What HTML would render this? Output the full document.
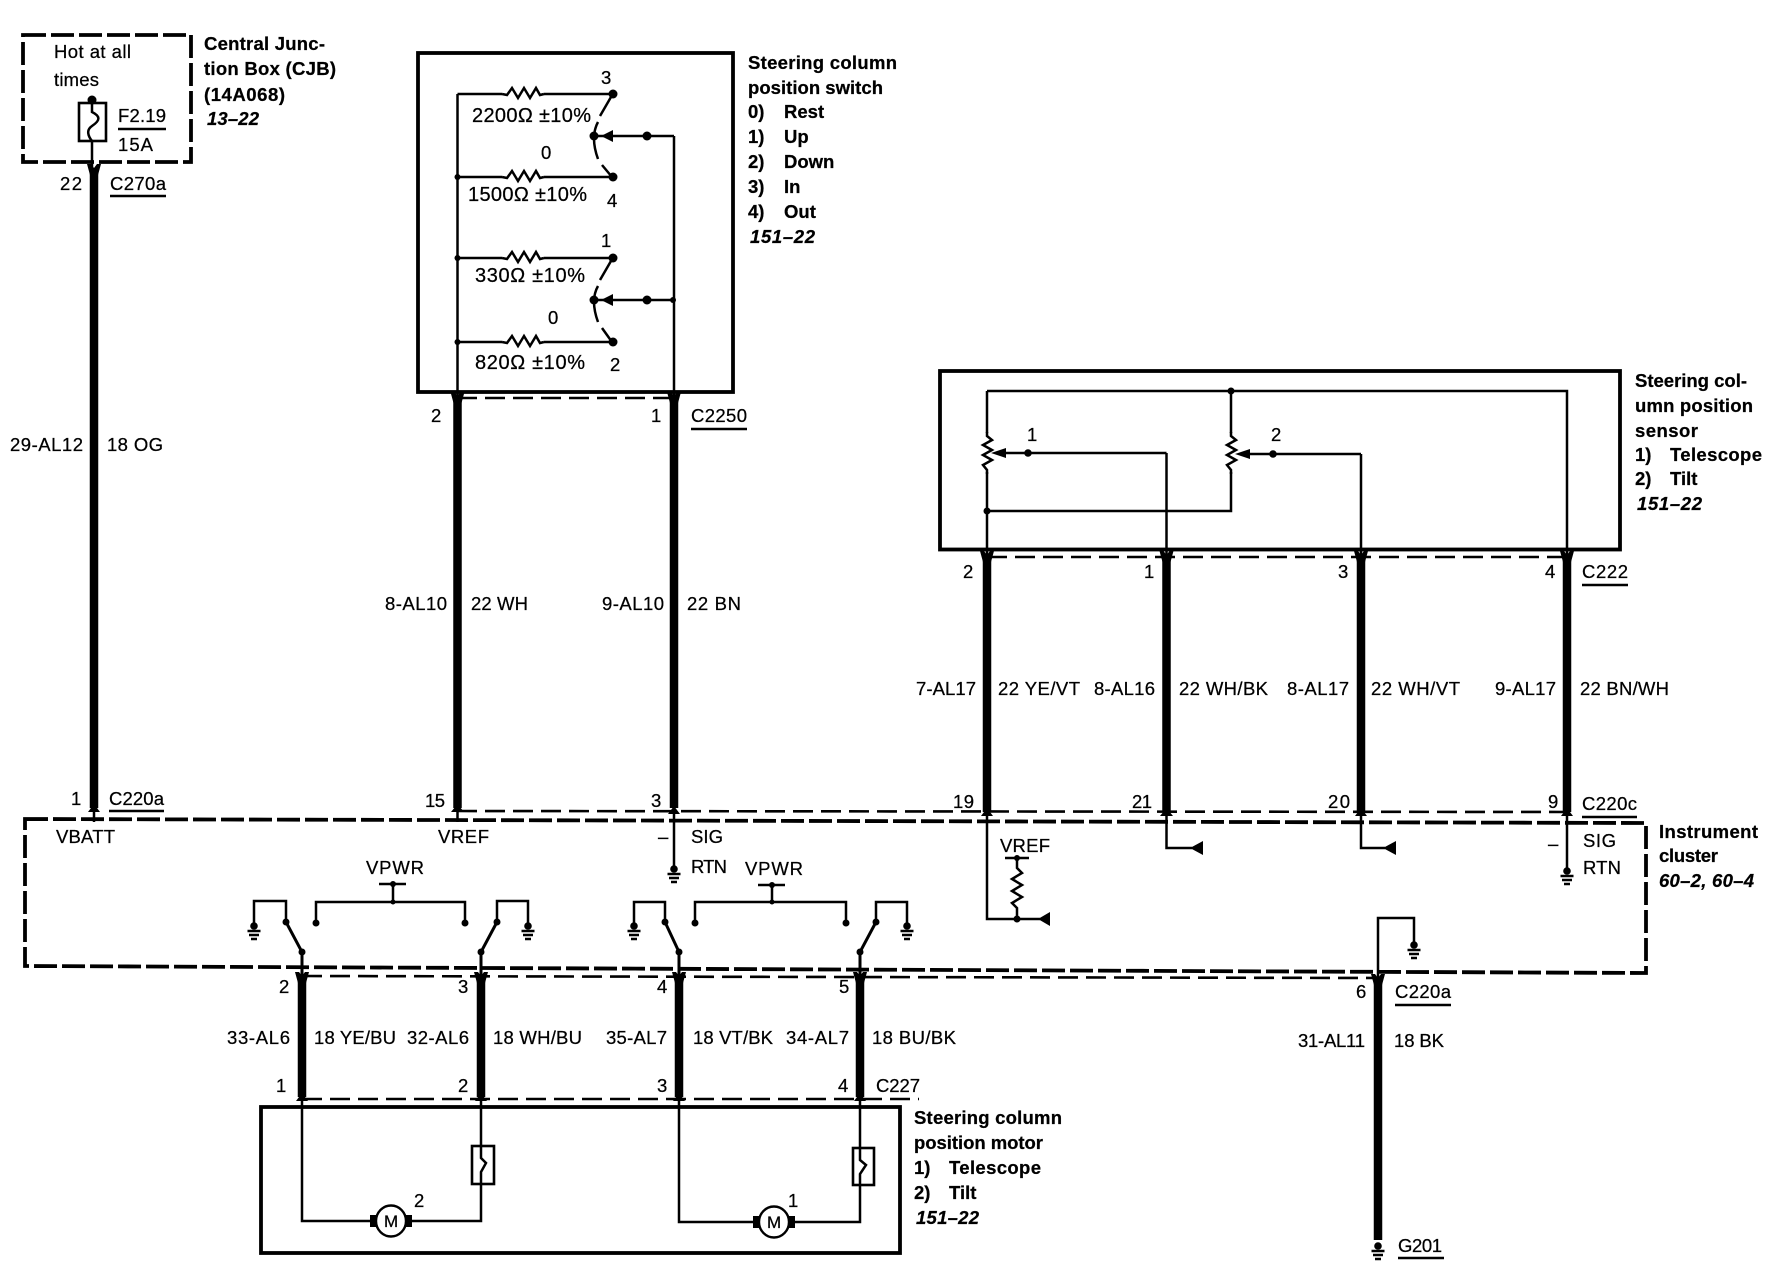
<!DOCTYPE html>
<html><head><meta charset="utf-8"><style>
html,body{margin:0;padding:0;background:#fff}
svg{display:block}
text{font-family:"Liberation Sans",sans-serif;font-size:18.5px;fill:#000;stroke:#000;stroke-width:.25}
.r{font-size:20px}
.b{font-weight:bold}
.i{font-weight:bold;font-style:italic}
.t{fill:none;stroke:#000;stroke-width:2.5}
.w{fill:none;stroke:#000;stroke-width:8.5}
.box{fill:none;stroke:#000;stroke-width:3.8}
.d1{fill:none;stroke:#000;stroke-width:3.8;stroke-dasharray:23 5}
.d2{fill:none;stroke:#000;stroke-width:2.6;stroke-dasharray:20 8}
</style></head><body>
<svg width="1780" height="1280" viewBox="0 0 1780 1280" xmlns="http://www.w3.org/2000/svg">
<defs>
<g id="gnd"><circle cx="0" cy="3" r="3.8"/><path d="M0 0V6" stroke="#000" stroke-width="2.4"/><path d="M-6.5 8H6.5M-5 12H5M-3 16H3" stroke="#000" stroke-width="2.6" fill="none"/></g>
<g id="chev"><polygon points="-7,-8 -3,-8 0,-4 3,-8 7,-8 4,3 -4,3"/></g>
<g id="rh"><polyline class="t" points="0,0 5,1 10,-6 16,4 22,-6 28,4 34,-6 38,1 42,0"/></g>
<g id="rv"><polyline class="t" points="0,0 0,4 5,8 -4,13 5,18 -4,23 5,28 -4,33 0,38 0,42"/></g>
<g id="mot"><ellipse cx="0" cy="0" rx="15" ry="15.5" fill="#fff" stroke="#000" stroke-width="2.4"/><rect x="-21" y="-6" width="6" height="12"/><rect x="15" y="-6" width="6" height="12"/><text x="-7" y="6" style="font-size:17px">M</text></g>
</defs>

<!-- CJB -->
<rect class="d1" x="23" y="35" width="168" height="127"/>
<text x="54" y="58" textLength="77">Hot at all</text>
<text x="54" y="86" textLength="45">times</text>
<circle cx="92" cy="100" r="4.5"/>
<rect x="79" y="103" width="27" height="38" fill="none" stroke="#000" stroke-width="2.6"/>
<path class="t" d="M92 100V112C100 116 101 120 92 126C86 130 88 136 92 141V172"/>
<text x="118" y="122" textLength="48">F2.19</text><path class="t" d="M118 129H166"/>
<text x="118" y="151" textLength="35">15A</text>
<text class="b" x="204" y="50" textLength="121">Central Junc-</text>
<text class="b" x="204" y="75" textLength="132">tion Box (CJB)</text>
<text class="b" x="204" y="101" textLength="81">(14A068)</text>
<text class="i" x="207" y="125" textLength="52">13–22</text>
<text x="60" y="190" textLength="22">22</text>
<text x="110" y="190" textLength="56">C270a</text><path class="t" d="M110 196H166"/>
<text x="10" y="451" textLength="73">29-AL12</text>
<text x="107" y="451" textLength="56">18 OG</text>

<!-- Wires -->
<path class="w" d="M94 172V808M457.5 398V808M674 398V808M987 557V812M1166.5 557V812M1361 557V812M1567 557V812M302 976V1097M481 976V1097M679 976V1097M860 976V1097M1378 978V1240"/>
<use href="#chev" x="94" y="172"/><use href="#chev" x="457.5" y="400"/><use href="#chev" x="674" y="400"/>
<use href="#chev" x="987" y="559"/><use href="#chev" x="1166.5" y="559"/><use href="#chev" x="1361" y="559"/><use href="#chev" x="1567" y="559"/>
<use href="#chev" x="302" y="980"/><use href="#chev" x="481" y="980"/><use href="#chev" x="679" y="980"/><use href="#chev" x="860" y="980"/><use href="#chev" x="1378" y="982"/>
<polygon points="88,812 100,812 94,804"/><polygon points="451,812 464,812 457.5,804"/><polygon points="668,814 680,814 674,806"/>
<polygon points="981,816 993,816 987,808"/><polygon points="1160,816 1173,816 1166.5,808"/><polygon points="1355,816 1367,816 1361,808"/><polygon points="1561,816 1573,816 1567,808"/>
<polygon points="296,1101 308,1101 302,1093"/><polygon points="475,1101 487,1101 481,1093"/><polygon points="673,1101 685,1101 679,1093"/><polygon points="854,1101 866,1101 860,1093"/>

<!-- Switch -->
<rect class="box" x="418" y="53" width="315" height="339"/>
<path class="t" d="M457.5 94V398M674 136V398M457.5 94H502M544 94H613M457.5 177H502M544 177H613M457.5 258H502M544 258H613M457.5 342H502M544 342H613"/>
<use href="#rh" x="502" y="94"/><use href="#rh" x="502" y="177"/><use href="#rh" x="502" y="258"/><use href="#rh" x="502" y="342"/>
<circle cx="613" cy="94" r="4.5"/><circle cx="613" cy="177" r="4.5"/><circle cx="613" cy="258" r="4.5"/><circle cx="613" cy="342" r="4.5"/>
<circle cx="457.5" cy="177" r="3"/><circle cx="457.5" cy="258" r="3"/><circle cx="457.5" cy="342" r="3"/>
<path class="t" d="M611 97L600 116M598 122Q590 137 598 159M602 165L612 177M611 261L600 280M598 286Q590 300 598 322M602 328L612 342"/>
<circle cx="594" cy="136" r="4.5"/><circle cx="594" cy="300" r="4.5"/>
<path class="t" d="M594 136H674M594 300H674"/>
<polygon points="601,136 613,130 613,142"/><polygon points="601,300 613,294 613,306"/>
<circle cx="647" cy="136" r="4.5"/><circle cx="647" cy="300" r="4.5"/><circle cx="673" cy="300" r="3"/>
<text x="601" y="84">3</text>
<text class="r" x="472" y="122" textLength="119">2200Ω ±10%</text>
<text x="541" y="159">0</text>
<text class="r" x="468" y="201" textLength="119">1500Ω ±10%</text>
<text x="607" y="207">4</text>
<text x="601" y="247">1</text>
<text class="r" x="475" y="282" textLength="110">330Ω ±10%</text>
<text x="548" y="324">0</text>
<text class="r" x="475" y="369" textLength="110">820Ω ±10%</text>
<text x="610" y="371">2</text>
<text class="b" x="748" y="69" textLength="149">Steering column</text>
<text class="b" x="748" y="94" textLength="135">position switch</text>
<text class="b" x="748" y="118">0)</text><text class="b" x="784" y="118">Rest</text>
<text class="b" x="748" y="143">1)</text><text class="b" x="784" y="143">Up</text>
<text class="b" x="748" y="168">2)</text><text class="b" x="784" y="168">Down</text>
<text class="b" x="748" y="193">3)</text><text class="b" x="784" y="193">In</text>
<text class="b" x="748" y="218">4)</text><text class="b" x="784" y="218">Out</text>
<text class="i" x="750" y="243" textLength="65">151–22</text>
<path class="d2" d="M457 398H674"/>
<text x="431" y="422">2</text><text x="651" y="422">1</text>
<text x="691" y="422" textLength="56">C2250</text><path class="t" d="M691 429H747"/>
<text x="385" y="610" textLength="62">8-AL10</text><text x="471" y="610" textLength="57">22 WH</text>
<text x="602" y="610" textLength="62">9-AL10</text><text x="687" y="610" textLength="54">22 BN</text>

<!-- Sensor -->
<rect class="box" x="940" y="371" width="680" height="178.5"/>
<path class="t" d="M987 391H1567V557M987 391V433M987 472V557M1231 391V433M1231 472V511H987M1166.5 453V557M1004 453H1166.5M1361 454V557M1248 454H1361"/>
<use href="#rv" x="987" y="432"/><use href="#rv" x="1231" y="432"/>
<circle cx="1231" cy="391" r="3.5"/><circle cx="987" cy="511" r="3.5"/>
<polygon points="991,453 1006,448 1006,458"/><polygon points="1235,454 1250,449 1250,459"/>
<circle cx="1028" cy="453" r="3.8"/><circle cx="1273" cy="454" r="3.8"/>
<text x="1027" y="441">1</text><text x="1271" y="441">2</text>
<text class="b" x="1635" y="387" textLength="112">Steering col-</text>
<text class="b" x="1635" y="412" textLength="118">umn position</text>
<text class="b" x="1635" y="437" textLength="63">sensor</text>
<text class="b" x="1635" y="461">1)</text><text class="b" x="1670" y="461" textLength="92">Telescope</text>
<text class="b" x="1635" y="485">2)</text><text class="b" x="1670" y="485">Tilt</text>
<text class="i" x="1637" y="510" textLength="65">151–22</text>
<path class="d2" d="M987 557H1567"/>
<text x="963" y="578">2</text><text x="1144" y="578">1</text><text x="1338" y="578">3</text><text x="1545" y="578">4</text>
<text x="1582" y="578" textLength="46">C222</text><path class="t" d="M1582 585H1628"/>
<text x="916" y="695" textLength="60">7-AL17</text><text x="998" y="695" textLength="82">22 YE/VT</text>
<text x="1094" y="695" textLength="61">8-AL16</text><text x="1179" y="695" textLength="89">22 WH/BK</text>
<text x="1287" y="695" textLength="62">8-AL17</text><text x="1371" y="695" textLength="89">22 WH/VT</text>
<text x="1495" y="695" textLength="61">9-AL17</text><text x="1580" y="695" textLength="89">22 BN/WH</text>

<!-- C220 -->
<path class="d2" d="M457 811L1567 812"/>
<text x="71" y="805">1</text>
<text x="109" y="805" textLength="55">C220a</text><path class="t" d="M109 811H164"/>
<text x="425" y="807" textLength="20">15</text><text x="651" y="807">3</text>
<text x="953" y="808" textLength="21">19</text><text x="1132" y="808" textLength="20">21</text><text x="1328" y="808" textLength="22">20</text><text x="1548" y="808">9</text>
<text x="1582" y="810" textLength="55">C220c</text><path class="t" d="M1582 817H1637"/>

<!-- Instrument cluster -->
<path class="d1" d="M25 819L1646 823V973L25 966Z"/>
<text x="56" y="843" textLength="59">VBATT</text>
<text x="438" y="843" textLength="51">VREF</text>
<text x="658" y="843">–</text>
<text x="691" y="843" textLength="32">SIG</text>
<text x="691" y="873" textLength="36">RTN</text>
<path class="t" d="M674 812V868M1567 812V870M94 808V822M457.5 808V822"/>
<use href="#gnd" x="674" y="866"/><use href="#gnd" x="1567" y="868"/>
<text x="1548" y="850">–</text>
<text x="1583" y="847" textLength="33">SIG</text>
<text x="1583" y="874" textLength="38">RTN</text>
<text class="b" x="1659" y="838" textLength="99">Instrument</text>
<text class="b" x="1659" y="862" textLength="59">cluster</text>
<text class="i" x="1659" y="887" textLength="95">60–2, 60–4</text>

<text x="1000" y="852" textLength="50">VREF</text>
<path class="t" d="M987 812V919H1040M1005 858H1029"/>
<circle cx="1017" cy="858" r="3"/>
<polyline class="t" points="1017,858 1017,868 1022,873 1012,879 1022,885 1012,891 1022,897 1012,903 1017,908 1017,919"/>
<circle cx="1017" cy="919" r="3.5"/>
<polygon points="1038,919 1050,912 1050,926"/>
<path class="t" d="M1166.5 812V848H1192M1361 812V848H1385"/>
<polygon points="1190,848 1203,841 1203,855"/><polygon points="1383,848 1396,841 1396,855"/>
<path class="t" d="M1378 978V918H1414V945"/><use href="#gnd" x="1414" y="942"/>

<!-- Switch set 1 -->
<text x="366" y="874" textLength="58">VPWR</text>
<path class="t" d="M379 884H406M393 884V902M316 923V902H465V923"/>
<circle cx="393" cy="884" r="3"/><circle cx="393" cy="902" r="2.5"/><circle cx="316" cy="923" r="3.5"/><circle cx="465" cy="923" r="3.5"/>
<path class="t" d="M254 925V901H286V922M497 922V901H528V925"/>
<use href="#gnd" x="254" y="923"/><use href="#gnd" x="528" y="923"/>
<circle cx="286" cy="922" r="3.5"/><circle cx="497" cy="922" r="3.5"/><circle cx="302" cy="952" r="3.5"/><circle cx="481" cy="952" r="3.5"/>
<path d="M286 922L302 952V976M497 922L481 952V976" fill="none" stroke="#000" stroke-width="3"/>
<!-- Switch set 2 -->
<text x="745" y="875" textLength="58">VPWR</text>
<path class="t" d="M758 885H785M772 885V902M695 923V902H846V923"/>
<circle cx="772" cy="885" r="3"/><circle cx="772" cy="902" r="2.5"/><circle cx="695" cy="923" r="3.5"/><circle cx="846" cy="923" r="3.5"/>
<path class="t" d="M634 925V902H665V922M876 922V902H907V925"/>
<use href="#gnd" x="634" y="923"/><use href="#gnd" x="907" y="923"/>
<circle cx="665" cy="922" r="3.5"/><circle cx="876" cy="922" r="3.5"/><circle cx="679" cy="952" r="3.5"/><circle cx="860" cy="952" r="3.5"/>
<path d="M665 922L679 952V976M876 922L860 952V976" fill="none" stroke="#000" stroke-width="3"/>

<!-- Lower labels -->
<path class="d2" d="M302 976L1378 978M302 1099H919"/>
<text x="279" y="993">2</text><text x="458" y="993">3</text><text x="657" y="993">4</text><text x="839" y="993">5</text>
<text x="227" y="1044" textLength="63">33-AL6</text><text x="314" y="1044" textLength="82">18 YE/BU</text>
<text x="407" y="1044" textLength="62">32-AL6</text><text x="493" y="1044" textLength="89">18 WH/BU</text>
<text x="606" y="1044" textLength="61">35-AL7</text><text x="693" y="1044" textLength="80">18 VT/BK</text>
<text x="786" y="1044" textLength="63">34-AL7</text><text x="872" y="1044" textLength="84">18 BU/BK</text>
<text x="276" y="1092">1</text><text x="458" y="1092">2</text><text x="657" y="1092">3</text><text x="838" y="1092">4</text>
<text x="876" y="1092" textLength="44">C227</text>

<!-- Motor box -->
<rect class="box" x="261" y="1107" width="639" height="146"/>
<path class="t" d="M302 1099V1221H372M412 1221H481V1184M481 1146V1099M679 1099V1222H755M795 1222H860V1185M860 1148V1099"/>
<rect x="472" y="1146" width="22" height="38" fill="none" stroke="#000" stroke-width="2.6"/>
<path class="t" d="M481 1146V1158L486 1163L481 1172V1184"/>
<rect x="853" y="1148" width="21" height="37" fill="none" stroke="#000" stroke-width="2.6"/>
<path class="t" d="M860 1148V1160L866 1165L860 1174V1185"/>
<use href="#mot" x="391" y="1221"/><use href="#mot" x="774" y="1222"/>
<text x="414" y="1207">2</text><text x="788" y="1207">1</text>
<text class="b" x="914" y="1124" textLength="148">Steering column</text>
<text class="b" x="914" y="1149" textLength="129">position motor</text>
<text class="b" x="914" y="1174">1)</text><text class="b" x="949" y="1174" textLength="92">Telescope</text>
<text class="b" x="914" y="1199">2)</text><text class="b" x="949" y="1199">Tilt</text>
<text class="i" x="916" y="1224" textLength="63">151–22</text>

<!-- G201 -->
<text x="1356" y="998">6</text>
<text x="1395" y="998" textLength="56">C220a</text><path class="t" d="M1395 1005H1451"/>
<text x="1298" y="1047" textLength="67">31-AL11</text>
<text x="1394" y="1047" textLength="50">18 BK</text>
<use href="#gnd" x="1378" y="1243"/>
<text x="1398" y="1252" textLength="44">G201</text><path class="t" d="M1398 1258H1444"/>
</svg>
</body></html>
